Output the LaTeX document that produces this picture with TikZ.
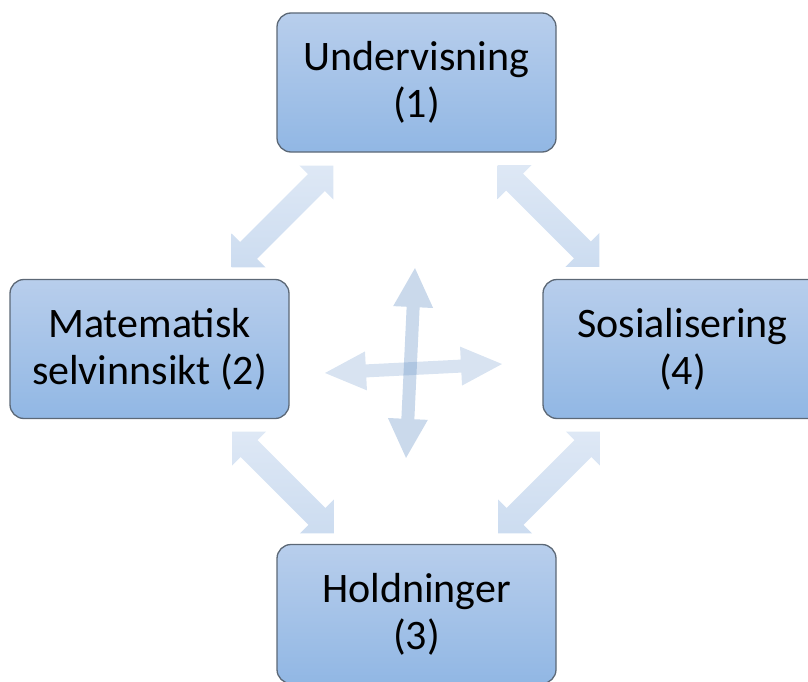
\documentclass[tikz,border=0pt]{standalone}
\usepackage{fontspec}
\setmainfont{Carlito}
\definecolor{boxtop}{RGB}{184,206,236}
\definecolor{boxbot}{RGB}{145,183,228}
\definecolor{boxline}{RGB}{92,104,118}
\definecolor{diagtop}{RGB}{222,232,245}
\definecolor{diagbot}{RGB}{204,220,240}
\definecolor{crossfill}{RGB}{79,129,189}
\begin{document}
\begin{tikzpicture}[x=1pt,y=-1pt,
  box/.style={draw=boxline, line width=1.3pt, rounded corners=14pt,
    top color=boxtop, bottom color=boxbot, minimum width=279pt,
    minimum height=139pt, align=center, inner sep=0pt,
    font=\fontsize{42}{47}\selectfont},
  diagarrow/.style={top color=diagtop, bottom color=diagbot, draw=none},
  crossarrow/.style={fill=crossfill, draw=none}]
\useasboundingbox (0,0) rectangle (808,682);
\clip (0,0) rectangle (808,682);
% diagonal double arrows
\foreach \cx/\cy/\ang in {282.5/216.5/45, 548.5/216/-45, 283/482.5/-45, 549/482.5/45}{
  \begin{scope}[shift={(\cx,\cy)}, rotate=\ang]
    \path[diagarrow] (72,0) -- (48,24) -- (48,12) -- (-48,12) -- (-48,24) -- (-72,0)
      -- (-48,-24) -- (-48,-12) -- (48,-12) -- (48,-24) -- cycle;
  \end{scope}
}
% central cross arrows
\coordinate (hc) at (413.5,368.5);
\coordinate (vc) at (410.5,363);
\begin{scope}[shift={(hc)}, rotate=2.9]
  \path[crossarrow, fill opacity=0.22] (88.6,0) -- (47.6,19.5) -- (47.6,6.5) -- (-47.6,6.5) -- (-47.6,19.5) -- (-88.6,0)
    -- (-47.6,-19.5) -- (-47.6,-6.5) -- (47.6,-6.5) -- (47.6,-19.5) -- cycle;
\end{scope}
\begin{scope}[shift={(vc)}, rotate=87.3]
  \path[crossarrow, fill opacity=0.3] (95,0) -- (56,20) -- (56,6.5) -- (-56,6.5) -- (-56,20) -- (-95,0)
    -- (-56,-20) -- (-56,-6.5) -- (56,-6.5) -- (56,-20) -- cycle;
\end{scope}
% boxes
\node[box] (u) at (416.5,82.5) {Undervisning\\(1)};
\node[box] (m) at (149.5,349) {Matematisk\\selvinnsikt (2)};
\node[box] (s) at (682.5,349) {Sosialisering\\(4)};
\node[box] (h) at (416.5,614) {Holdninger\\(3)};
\end{tikzpicture}
\end{document}
